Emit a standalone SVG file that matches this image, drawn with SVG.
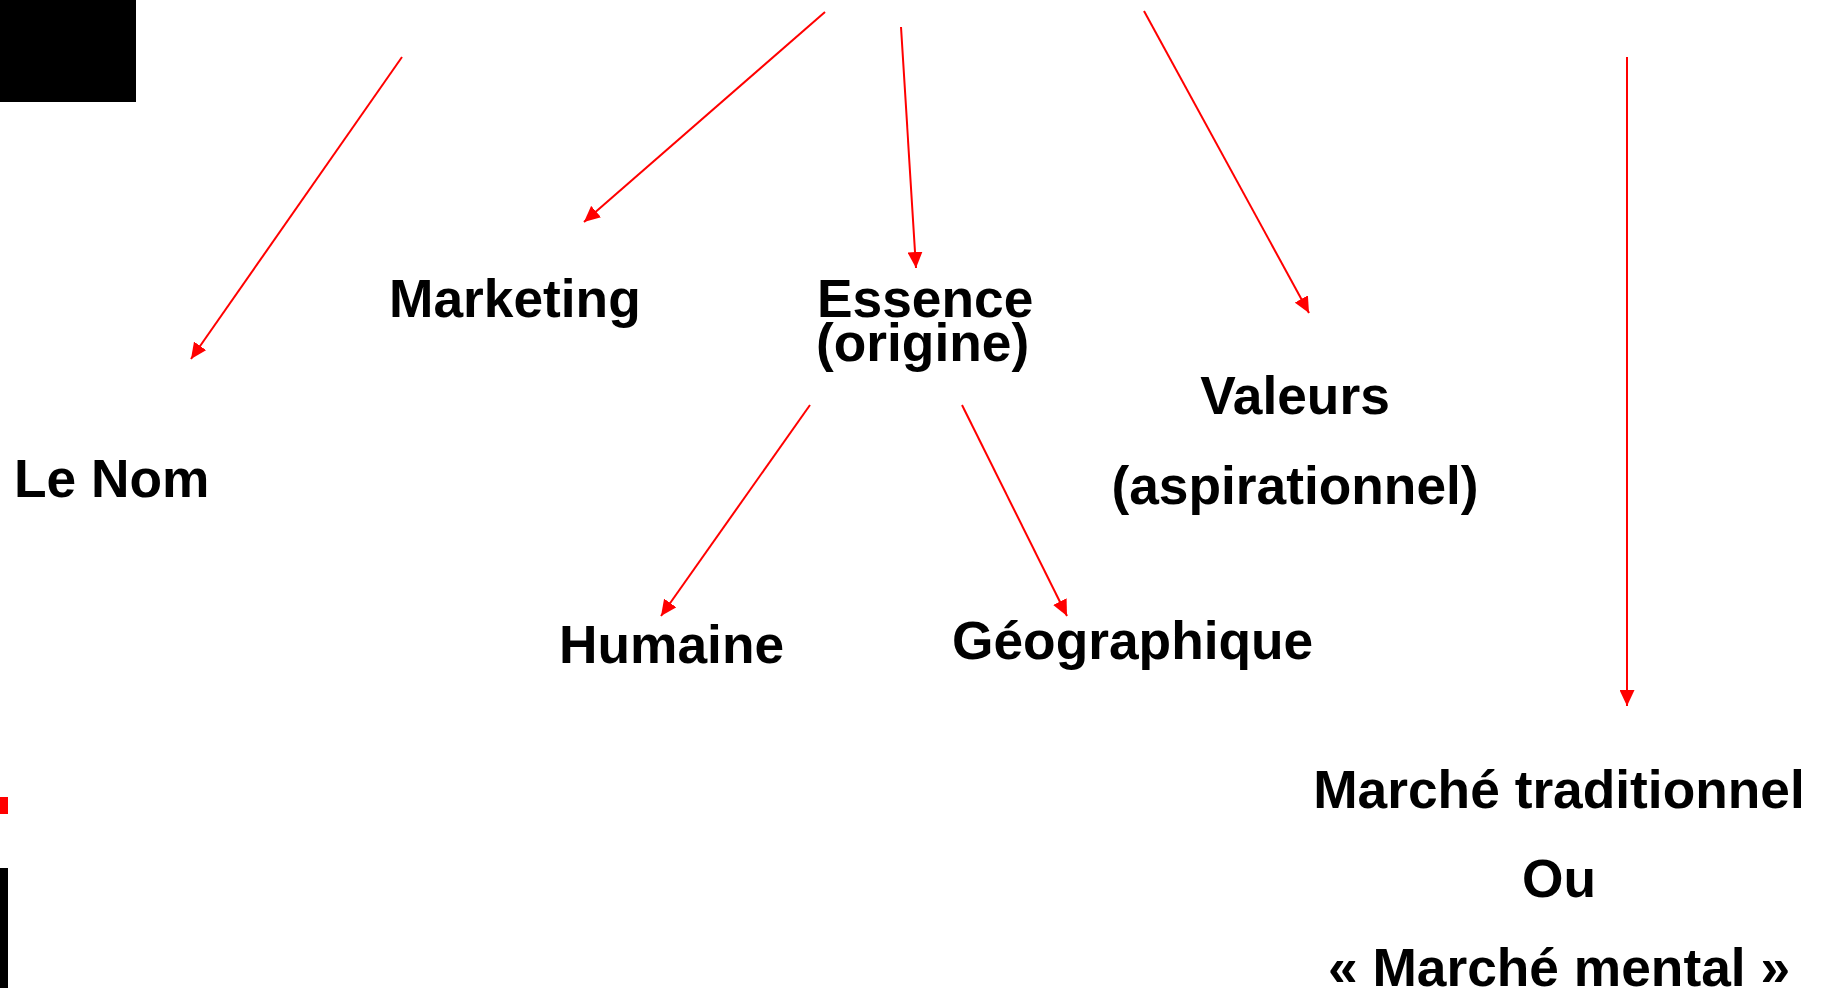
<svg xmlns="http://www.w3.org/2000/svg" width="1825" height="988" viewBox="0 0 1825 988">
<style>
.t{font-family:"Liberation Sans",Arial,sans-serif;font-weight:bold;font-size:53.3px;fill:#000}
.c{stroke:#ff0000;stroke-width:2;fill:none}
</style>
<defs>
<marker id="ah" markerUnits="userSpaceOnUse" markerWidth="17" markerHeight="15" refX="16" refY="7.5" orient="auto">
<path d="M0,0 L16,7.5 L0,15 z" fill="#ff0000"/>
</marker>
</defs>
<rect width="1825" height="988" fill="#fff"/>
<rect x="0" y="0" width="136" height="102" fill="#000"/>
<rect x="0" y="797" width="8" height="17" fill="#ff0000"/>
<rect x="0" y="868" width="8" height="120" fill="#000"/>
<g id="connectors">
<line class="c" x1="402" y1="57" x2="191" y2="359" marker-end="url(#ah)"/>
<line class="c" x1="825" y1="12" x2="584" y2="222" marker-end="url(#ah)"/>
<line class="c" x1="901" y1="27" x2="916" y2="268" marker-end="url(#ah)"/>
<line class="c" x1="1144" y1="11" x2="1309" y2="313" marker-end="url(#ah)"/>
<line class="c" x1="1627" y1="57" x2="1627" y2="706" marker-end="url(#ah)"/>
<line class="c" x1="810" y1="405" x2="661" y2="616" marker-end="url(#ah)"/>
<line class="c" x1="962" y1="405" x2="1067" y2="616" marker-end="url(#ah)"/>
</g>
<g id="le-nom"><text class="t" x="14" y="497">Le Nom</text></g>
<g id="marketing"><text class="t" x="389" y="317">Marketing</text></g>
<g id="essence"><text class="t" x="817" y="317">Essence</text><text class="t" x="816" y="361">(origine)</text></g>
<g id="valeurs"><text class="t" x="1295" y="414" text-anchor="middle">Valeurs</text><text class="t" x="1295" y="504" text-anchor="middle">(aspirationnel)</text></g>
<g id="humaine"><text class="t" x="559" y="663">Humaine</text></g>
<g id="geographique"><text class="t" x="952" y="659">Géographique</text></g>
<g id="marche"><text class="t" x="1559" y="808" text-anchor="middle">Marché traditionnel</text><text class="t" x="1559" y="897" text-anchor="middle">Ou</text><text class="t" x="1559" y="986" text-anchor="middle">« Marché mental »</text></g>
</svg>
